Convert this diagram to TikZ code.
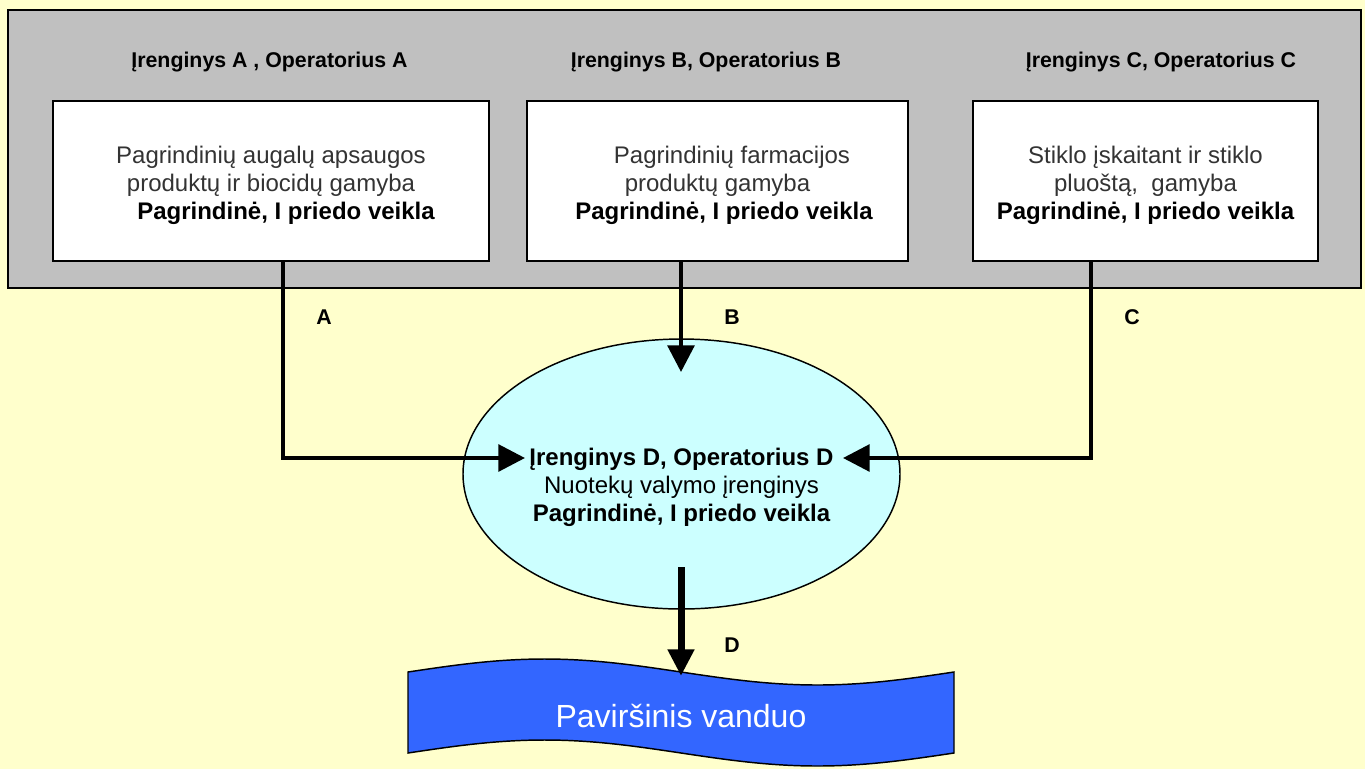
\documentclass[tikz,border=0pt]{standalone}
\usepackage{fontspec}
\setmainfont{Liberation Sans}
\usetikzlibrary{arrows.meta,shapes.geometric}
\definecolor{bgY}{HTML}{FFFFCC}
\definecolor{grpGray}{HTML}{C0C0C0}
\definecolor{ellCyan}{HTML}{CCFFFF}
\definecolor{waterBlue}{HTML}{3366FF}
\definecolor{txtGray}{HTML}{333333}
\begin{document}
\begin{tikzpicture}[x=0.75pt,y=-0.75pt,
  border/.style={draw=black,line width=1.1pt},
  procbox/.style={border,fill=white,minimum height=120pt,inner sep=0pt},
  boxtext/.style={inner sep=0pt,align=center,font=\fontsize{18pt}{21pt}\selectfont,text=txtGray},
  hdr/.style={font=\fontsize{16pt}{18pt}\selectfont\bfseries,inner sep=0pt},
  lbl/.style={font=\fontsize{16pt}{18pt}\selectfont\bfseries,inner sep=0pt},
  conn/.style={line width=3pt,-{Triangle[length=20pt,width=20pt]}},
]
\useasboundingbox (0,0) rectangle (1365,769);
\fill[bgY] (0,0) rectangle (1365,769);

% group container
\node[border,fill=grpGray,minimum width=1014.75pt,minimum height=208.5pt,inner sep=0pt] (grp) at (684.5,149) {};

% headers
\node[hdr] (hA) at (269.5,62) {Įrenginys A , Operatorius A};
\node[hdr] (hB) at (706,62) {Įrenginys B, Operatorius B};
\node[hdr] (hC) at (1161,62) {Įrenginys C, Operatorius C};

% boxes
\node[procbox,minimum width=327pt] (boxA) at (271,181) {};
\node[procbox,minimum width=285.75pt] (boxB) at (717.5,181) {};
\node[procbox,minimum width=258.75pt] (boxC) at (1145.5,181) {};
\node[boxtext] (tA) at (boxA.center) [yshift=-3pt]
  {Pagrindinių augalų apsaugos\\ produktų ir biocidų gamyba\\ \hspace*{22.5pt}\textcolor{black}{\bfseries Pagrindinė, I priedo veikla}};
\node[boxtext] (tB) at (boxB.center) [yshift=-3pt]
  {\hspace*{21.75pt}Pagrindinių farmacijos\\ produktų gamyba\\ \hspace*{9.75pt}\textcolor{black}{\bfseries Pagrindinė, I priedo veikla}};
\node[boxtext] (tC) at (boxC.center) [yshift=-3pt]
  {Stiklo įskaitant ir stiklo\\ pluoštą,~ gamyba\\ \textcolor{black}{\bfseries Pagrindinė, I priedo veikla}};

% ellipse
\node[ellipse,border,fill=ellCyan,minimum width=327.75pt,minimum height=202.5pt,inner sep=0pt] (ellD) at (681.5,474) {};
\node[align=center,inner sep=0pt,font=\fontsize{18pt}{21pt}\selectfont] (txtD) at (681.5,487.5)
  {{\bfseries Įrenginys D, Operatorius D}\\ Nuotekų valymo įrenginys\\ {\bfseries Pagrindinė, I priedo veikla}};

% water
\path[border,fill=waterBlue] (408,672) sin (544.5,659) cos (681,672) sin (817.5,685) cos (954,672)
  -- (954,753) sin (817.5,766) cos (681,753) sin (544.5,740) cos (408,753) -- cycle;
\node[text=white,inner sep=0pt,font=\fontsize{24pt}{28pt}\selectfont] (water) at (681,715.5) {Paviršinis vanduo};

% coordinates
\coordinate (xa) at (283,0);
\coordinate (xb) at (681,0);
\coordinate (xc) at (1091,0);
\coordinate (tipA) at (525,458);
\coordinate (tipB) at (681,372);
\coordinate (tipC) at (843,458);
\coordinate (startD) at (681,567);
\coordinate (tipD) at (681,676);

% connectors
\draw[conn] (xa |- boxA.south) |- (tipA);
\draw[conn] (xb |- boxB.south) -- (tipB);
\draw[conn] (xc |- boxC.south) |- (tipC);
\draw[line width=5.25pt,-{Triangle[length=20pt,width=19pt]}] (startD) -- (tipD);

% labels
\node[lbl] (lA) at (324,317) {A};
\node[lbl] (lB) at (732,317) {B};
\node[lbl] (lC) at (1132,317) {C};
\node[lbl] (lD) at (732,645) {D};
\end{tikzpicture}
\end{document}
